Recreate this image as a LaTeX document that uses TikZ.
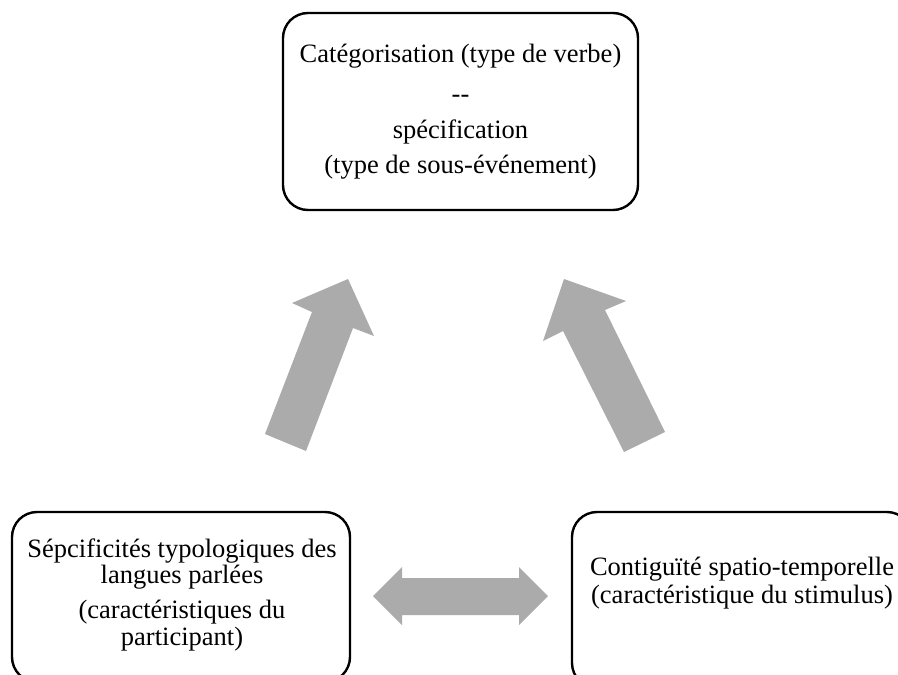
\documentclass[tikz,border=0pt]{standalone}
\usepackage{fontspec}
\setmainfont{Liberation Serif}
\definecolor{arrowgray}{RGB}{171,171,171}
\begin{document}
\begin{tikzpicture}[x=1pt,y=-1pt,
  box/.style={draw=black,line width=2.4pt,rounded corners=25pt,inner sep=0pt},
  txt/.style={font=\fontsize{26.5}{30}\selectfont,inner sep=0pt,anchor=base},
  blockarrow/.style={fill=arrowgray,draw=none}]
\useasboundingbox (0,0) rectangle (898,675);

% the three rounded boxes
\node[box,minimum width=355pt,minimum height=197pt] (cat) at (460.5,111.5) {};
\node[box,minimum width=338pt,minimum height=170pt] (typo) at (181,597) {};
\node[box,minimum width=340pt,minimum height=176pt] (cont) at (742,600) {};

% top box text
\node[txt] (cat1) at (460.5,62) {Catégorisation (type de verbe)};
\node[txt] (cat2) at (460.5,102) {-{}-};
\node[txt] (cat3) at (460.5,138) {spécification};
\node[txt] (cat4) at (460.5,173) {(type de sous-événement)};

% left box text
\node[txt] (typo1) at (182,557) {Sépcificités typologiques des};
\node[txt] (typo2) at (182,583) {langues parlées};
\node[txt] (typo3) at (182,618) {(caractéristiques du};
\node[txt] (typo4) at (182,645) {participant)};

% right box text
\node[txt] (cont1) at (742,575) {Contiguïté spatio-temporelle};
\node[txt] (cont2) at (742,603) {(caractéristique du stimulus)};

% block arrows
\coordinate (ltip) at (348,279);
\coordinate (rtip) at (564,279);
\fill[blockarrow] (265,434) -- (312,312) -- (292,303) -- (ltip) -- (374,336)
  -- (353,328) -- (306,451) -- cycle;
\fill[blockarrow] (624,452) -- (563,331) -- (543,341) -- (rtip) -- (626,301)
  -- (605,310) -- (665,432) -- cycle;
\coordinate (dl) at (373,596);
\coordinate (dr) at (548,596);
\fill[blockarrow] (dl) -- (402,567) -- (402,578) -- (519,578) -- (519,567)
  -- (dr) -- (519,625) -- (519,615) -- (402,615) -- (402,625) -- cycle;
\end{tikzpicture}
\end{document}
